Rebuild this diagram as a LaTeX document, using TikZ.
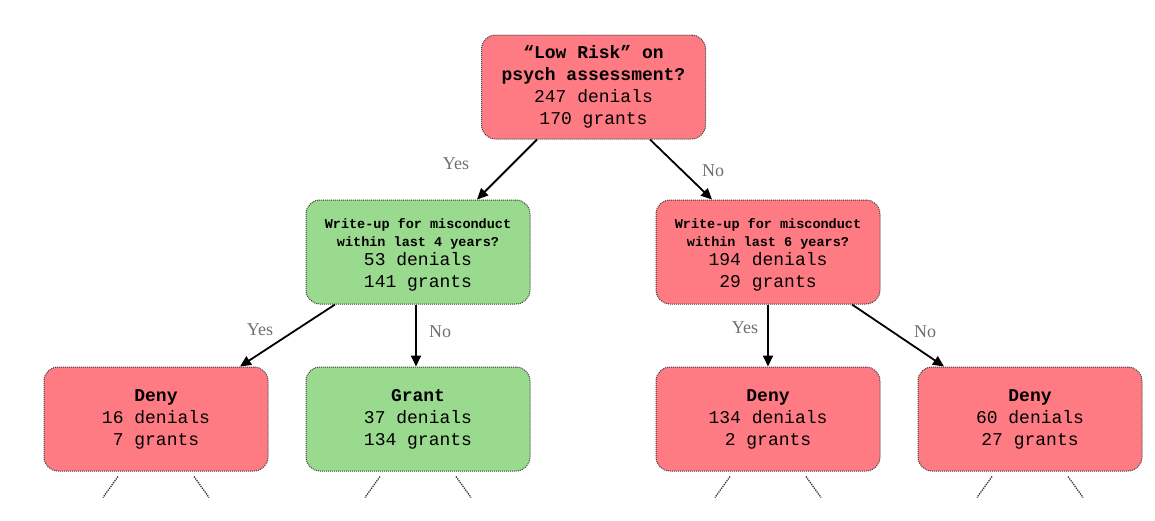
\documentclass[tikz,border=0pt]{standalone}
\usepackage{fontspec}
\setmainfont{Liberation Serif}
\newfontfamily\cour{Liberation Mono}
\usetikzlibrary{arrows.meta}
\definecolor{boxred}{RGB}{255,123,132}
\definecolor{boxgreen}{RGB}{153,218,142}
\definecolor{lblgray}{RGB}{110,110,110}
\definecolor{bordergray}{RGB}{60,60,60}
\tikzset{
  treebox/.style={draw=bordergray, densely dotted, line width=1pt, rounded corners=14pt,
    minimum width=224pt, minimum height=104pt, align=center, inner sep=0pt,
    font=\cour\fontsize{18}{22}\selectfont},
  redbox/.style={treebox, fill=boxred},
  greenbox/.style={treebox, fill=boxgreen},
  arr/.style={line width=1.8pt, -{Triangle[length=11pt,width=10pt]}, black},
  lbl/.style={text=lblgray, font=\fontsize{18}{20}\selectfont},
  stub/.style={densely dotted, line width=1.3pt, black!80},
}
\begin{document}
\begin{tikzpicture}[x=1pt,y=-1pt]
\useasboundingbox (0,0) rectangle (1155,520);
\node[redbox] (root) at (593.5,87)
  {\textbf{“Low Risk” on}\\\textbf{psych assessment?}\\247 denials\\170 grants};
\node[greenbox] (lm) at (418,252)
  {\rule{0pt}{16pt}{\fontsize{13.5}{18}\selectfont\textbf{Write-up for misconduct}}\\[-4pt]{\fontsize{13.5}{18}\selectfont\textbf{within last 4 years?}}\\[-3pt]53 denials\\141 grants};
\node[redbox] (rm) at (768,252)
  {\rule{0pt}{16pt}{\fontsize{13.5}{18}\selectfont\textbf{Write-up for misconduct}}\\[-4pt]{\fontsize{13.5}{18}\selectfont\textbf{within last 6 years?}}\\[-3pt]194 denials\\29 grants};
\node[redbox] (ll) at (156,419) {\textbf{Deny}\\16 denials\\7 grants};
\node[greenbox] (lr) at (418,419) {\textbf{Grant}\\37 denials\\134 grants};
\node[redbox] (rl) at (768,419) {\textbf{Deny}\\134 denials\\2 grants};
\node[redbox] (rr) at (1030,419) {\textbf{Deny}\\60 denials\\27 grants};

\draw[arr] ([xshift=-56.5pt]root.south) -- ([xshift=59pt]lm.north);
\draw[arr] ([xshift=56.5pt]root.south) -- ([xshift=-56pt]rm.north);
\draw[arr] ([xshift=-83pt]lm.south) -- ([xshift=84pt]ll.north);
\draw[arr] ([xshift=-2pt]lm.south) -- ([xshift=-2pt]lr.north);
\draw[arr] (rm.south) -- (rl.north);
\draw[arr] ([xshift=84pt]rm.south) -- ([xshift=-86pt]rr.north);

\node[lbl] (y1) at (456,164) {Yes};
\node[lbl] (n1) at (713,171) {No};
\node[lbl] (y2) at (260,330) {Yes};
\node[lbl] (n2) at (440,332) {No};
\node[lbl] (y3) at (745,328) {Yes};
\node[lbl] (n3) at (925,332) {No};

\foreach \b in {ll,lr,rl,rr}{
  \coordinate (\b-s1) at ([xshift=-53pt,yshift=-26pt]\b.south);
  \coordinate (\b-s2) at ([xshift=53pt,yshift=-26pt]\b.south);
  \draw[stub] ([xshift=-38pt,yshift=-5pt]\b.south) -- (\b-s1);
  \draw[stub] ([xshift=38pt,yshift=-5pt]\b.south) -- (\b-s2);
}
\end{tikzpicture}
\end{document}
